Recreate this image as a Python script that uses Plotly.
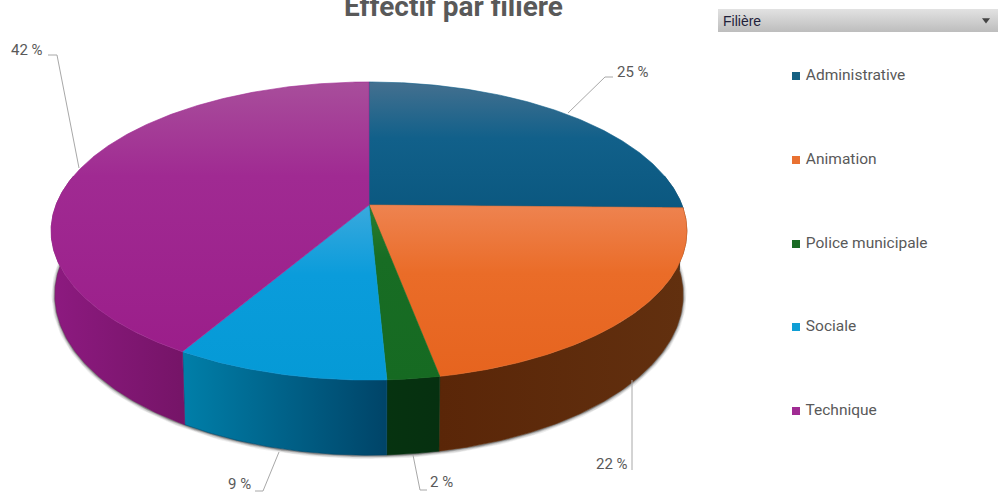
import math
import plotly.graph_objects as go

TITLE = "Effectif par filière"
FILTER_LABEL = "Filière"
categories = ["Administrative", "Animation", "Police municipale", "Sociale", "Technique"]
values = [25.3, 21.7, 2.25, 9.2, 41.55]
legend_colors = ["#156082", "#E97132", "#196B24", "#0F9ED5", "#A02B93"]

top_gradients = [
    [(0, "#0b5880"), (0.55, "#11608a"), (1, "#44708f")],
    [(0, "#e6641f"), (0.6, "#ea6c28"), (1, "#ee8350")],
    [(0, "#166a22"), (0.7, "#186d24"), (1, "#2a7d30")],
    [(0, "#059ad6"), (0.6, "#0a9cdb"), (1, "#3aa9dd")],
    [(0, "#9b1e8a"), (0.65, "#a02a92"), (1, "#a84e9b")],
]
wall_gradients = [
    [(0, "#0c3f5c"), (1, "#0a3550")],
    [(0, "#5a2608"), (1, "#62300f")],
    [(0, "#063310"), (1, "#063010")],
    [(0, "#007fa9"), (1, "#004468")],
    [(0, "#8d1a80"), (1, "#751467")],
]

# projection of the tilted disc
CX, CY, RX, RY, D, H = 369, 205, 313, 144.5, 5.73, 62


def project(deg, z=0.0):
    a = math.radians(deg)
    sx, cy = math.sin(a), math.cos(a)
    s = D / (D + cy)
    shrink = 1 - 0.012 * z / H
    return CX + RX * sx * s * shrink, CY - RY * cy * s + z * s


total = sum(values)
bounds = [0.0]
for v in values:
    bounds.append(bounds[-1] + v / total * 360)


def arc(a0, a1, z=0.0):
    n = max(2, int(abs(a1 - a0) * 2))
    return [project(a0 + (a1 - a0) * i / n, z) for i in range(n + 1)]


fig = go.Figure()


def poly(pts, grad, gtype, name):
    xs = [p[0] for p in pts] + [pts[0][0]]
    ys = [p[1] for p in pts] + [pts[0][1]]
    fig.add_trace(go.Scatter(
        x=xs, y=ys, mode="lines", fill="toself",
        line=dict(width=0.6, color=grad[len(grad) // 2][1]),
        fillgradient=dict(type=gtype, colorscale=[list(g) for g in grad]),
        hoverinfo="skip", showlegend=False, name=name))


# soft shadow below the wall
lower = arc(78, 282, H)
for w, alpha in [(7, 0.08), (5, 0.12), (3, 0.20), (1.5, 0.32)]:
    fig.add_trace(go.Scatter(
        x=[p[0] for p in lower], y=[p[1] + 0.5 for p in lower], mode="lines",
        line=dict(width=w, color=f"rgba(40,40,40,{alpha})"),
        hoverinfo="skip", showlegend=False))

# walls
for i, name in enumerate(categories):
    a0, a1 = max(bounds[i], 78), min(bounds[i + 1], 282)
    if a1 <= a0:
        continue
    pts = arc(a0, a1, 0) + arc(a1, a0, H)
    poly(pts, wall_gradients[i], "horizontal", name)

# top faces
for i, name in enumerate(categories):
    pts = [(CX, CY)] + arc(bounds[i], bounds[i + 1], 0)
    poly(pts, top_gradients[i], "vertical", name)

# value labels with leader lines
label_text = [f"{round(v)} %" for v in values]
leader_x = [[568, 605, 613], [632, 632], [413, 420, 427], [279, 263, 255], [79, 57, 48]]
leader_y = [[113, 77, 77], [380, 470, 470], [455, 490, 490], [452, 491, 491], [168, 55, 55]]
label_x = [633, 612, 441, 239, 27]
label_y = [72, 464, 482, 484, 50]
for lx, ly, tx, ty, t in zip(leader_x, leader_y, label_x, label_y, label_text):
    fig.add_trace(go.Scatter(x=lx, y=ly, mode="lines", line=dict(color="#a8a8a8", width=1),
                             hoverinfo="skip", showlegend=False))
    fig.add_annotation(x=tx, y=ty, text=t, showarrow=False, xref="x", yref="y",
                       font=dict(family="Roboto", size=15, color="#595959"))

# legend
legend_y = [76, 160, 244, 327, 411]
for c, col, y in zip(categories, legend_colors, legend_y):
    fig.add_trace(go.Scatter(
        x=[796], y=[y], mode="markers+text", text=[" " + c], textposition="middle right",
        marker=dict(symbol="square", size=8, color=col),
        textfont=dict(family="Roboto", size=15.5, color="#595959"),
        hoverinfo="skip", showlegend=False, name=c))

# filter bar
fig.add_trace(go.Scatter(
    x=[718, 998, 998, 718, 718], y=[9, 9, 32, 32, 9], mode="lines", fill="toself",
    line=dict(width=0, color="#cccccc"),
    fillgradient=dict(type="vertical", colorscale=[[0, "#bdbdbd"], [1, "#e2e2e2"]]),
    hoverinfo="skip", showlegend=False))
fig.add_annotation(x=721, y=21, text=FILTER_LABEL, showarrow=False, xanchor="left", xref="x", yref="y",
                   font=dict(family="Liberation Sans", size=14, color="#1f1f3a"))
fig.add_trace(go.Scatter(x=[986], y=[20], mode="markers",
                         marker=dict(symbol="triangle-down", size=7, color="#444444"),
                         hoverinfo="skip", showlegend=False))

fig.add_annotation(x=453, y=6, text=f"<b>{TITLE}</b>", showarrow=False, xref="x", yref="y",
                   font=dict(family="Roboto", size=28, color="#595959"))

fig.update_layout(
    width=998, height=497, margin=dict(l=0, r=0, t=0, b=0),
    paper_bgcolor="white", plot_bgcolor="white", showlegend=False,
    xaxis=dict(range=[0, 998], visible=False, fixedrange=True),
    yaxis=dict(range=[497, 0], visible=False, fixedrange=True),
)
fig.write_html("out.html", config={"displayModeBar": False},
               post_script="document.body.style.margin='0';document.documentElement.style.overflow='hidden';")
